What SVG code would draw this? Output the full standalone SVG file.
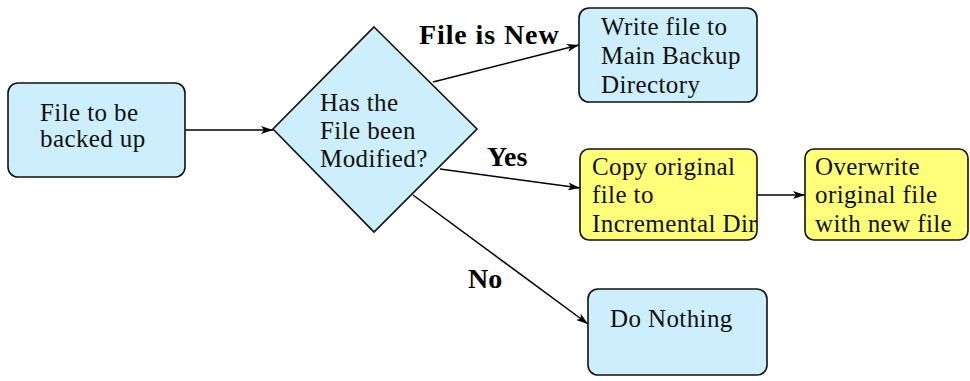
<svg xmlns="http://www.w3.org/2000/svg" width="970" height="381" viewBox="0 0 970 381">
  <style>
    .blue { fill: #cdeefd; stroke: #111; stroke-width: 1.6; }
    .yellow { fill: #ffff7a; stroke: #111; stroke-width: 1.6; }
    .t { font-family: "Liberation Serif", "Times New Roman", serif; font-size: 25px; letter-spacing: 0.4px; fill: #111; }
    .lbl { font-family: "Liberation Serif", "Times New Roman", serif; font-size: 28px; font-weight: bold; fill: #000; }
    .edge { stroke: #000; stroke-width: 1.5; fill: none; marker-end: url(#arrow); }
  </style>
  <defs>
    <marker id="arrow" viewBox="0 0 12 8" refX="12" refY="4" markerWidth="12" markerHeight="8" markerUnits="userSpaceOnUse" orient="auto">
      <path d="M0,0 L12,4 L0,8 L3,4 Z" fill="#000"/>
    </marker>
    <clipPath id="clipCopy"><rect x="580" y="149" width="177" height="91" rx="9"/></clipPath>
    <clipPath id="clipOver"><rect x="805" y="149" width="163" height="91" rx="9"/></clipPath>
  </defs>
  <rect width="970" height="381" fill="#fff"/>

  <g id="connectors">
    <line class="edge" x1="185" y1="130" x2="273" y2="130"/>
    <line class="edge" x1="433" y1="82" x2="579" y2="45"/>
    <line class="edge" x1="440" y1="169" x2="580" y2="188"/>
    <line class="edge" x1="757" y1="195" x2="805" y2="195"/>
    <line class="edge" x1="413" y1="195" x2="588" y2="324"/>
    <text class="lbl" x="419" y="44" letter-spacing="0.9">File is New</text>
    <text class="lbl" x="487" y="166">Yes</text>
    <text class="lbl" x="468" y="288">No</text>
  </g>

  <g id="source">
    <rect class="blue" x="8" y="83" width="177" height="94" rx="10"/>
    <text class="t" x="40" y="121">File to be</text>
    <text class="t" x="40" y="147">backed up</text>
  </g>

  <g id="decision">
    <polygon class="blue" points="374,27 477,129 374,232 273,129"/>
    <text class="t" x="320" y="111">Has the</text>
    <text class="t" x="320" y="139">File been</text>
    <text class="t" x="320" y="167">Modified?</text>
  </g>

  <g id="write-main">
    <rect class="blue" x="579" y="8" width="178" height="94" rx="10"/>
    <text class="t" x="601" y="35">Write file to</text>
    <text class="t" x="601" y="64">Main Backup</text>
    <text class="t" x="601" y="93">Directory</text>
  </g>

  <g id="copy-incremental">
    <rect class="yellow" x="580" y="149" width="177" height="91" rx="9"/>
    <g clip-path="url(#clipCopy)">
      <text class="t" x="592" y="175">Copy original</text>
      <text class="t" x="592" y="203">file to</text>
      <text class="t" x="592" y="232">Incremental Dir</text>
    </g>
  </g>

  <g id="overwrite">
    <rect class="yellow" x="805" y="149" width="163" height="91" rx="9"/>
    <g clip-path="url(#clipOver)">
      <text class="t" x="815" y="175">Overwrite</text>
      <text class="t" x="815" y="203">original file</text>
      <text class="t" x="815" y="232">with new file</text>
    </g>
  </g>

  <g id="do-nothing">
    <rect class="blue" x="588" y="289" width="179" height="86" rx="10"/>
    <text class="t" x="610" y="327">Do Nothing</text>
  </g>
</svg>
